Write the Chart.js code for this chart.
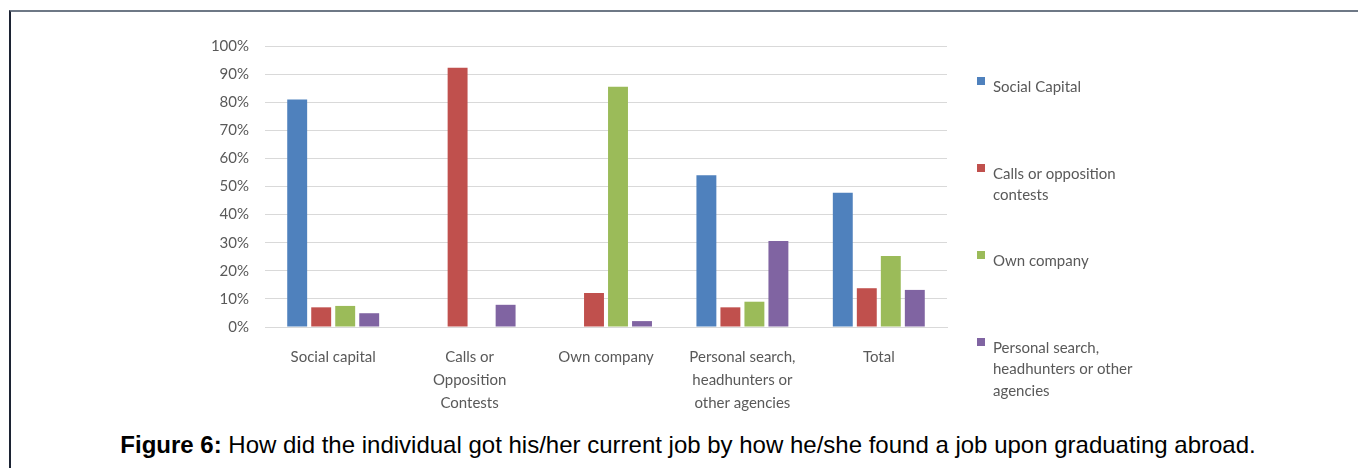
<!DOCTYPE html>
<html>
<head>
<meta charset="utf-8">
<script src="https://cdn.jsdelivr.net/npm/chart.js@4/dist/chart.umd.min.js"></script>
<style>
  html, body { margin: 0; padding: 0; background: #fff; }
  #wrap { position: relative; width: 1358px; height: 468px; overflow: hidden; }
  #frame {
    position: absolute; left: 9px; top: 10px; right: -5px; bottom: -5px;
    border-top: 2px solid #6e7886; border-left: 2px solid #1c2333;
  }
  #chart-box { position: absolute; left: 0; top: 0; width: 1358px; height: 420px; }
  #caption {
    position: absolute; left: 0; width: 1376px; top: 433px;
    text-align: center; font-family: "Liberation Sans", Arial, sans-serif;
    font-size: 24px; line-height: 24px; color: #000; white-space: nowrap;
  }
</style>
</head>
<body>
<div id="wrap">
  <div id="frame"></div>
  <div id="chart-box"><canvas id="c"></canvas></div>
  <div id="caption"><b>Figure 6:</b> How did the individual got his/her current job by how he/she found a job upon graduating abroad.</div>
</div>
<script>
// categories: how the current job was obtained
var categories = [
  ["Social capital"],
  ["Calls or", "Opposition", "Contests"],
  ["Own company"],
  ["Personal search,", "headhunters or", "other agencies"],
  ["Total"]
];

// series: how a job was found upon graduating (percent)
var socialCapital = [81, 0, 0, 54, 47.8];
var callsOpposition = [7, 92.3, 12.1, 7, 13.8];
var ownCompany = [7.5, 0, 85.5, 9, 25.3];
var personalSearch = [4.9, 7.9, 2.1, 30.6, 13.2];

var seriesNames = [
  ["Social Capital"],
  ["Calls or opposition", "contests"],
  ["Own company"],
  ["Personal search,", "headhunters or other", "agencies"]
];
var seriesColors = ["#4F81BD", "#C0504D", "#9BBB59", "#8064A2"];

var yTicks = [0, 10, 20, 30, 40, 50, 60, 70, 80, 90, 100];

var FONT = "Lato";
var GREY = "#595959";

// legend on the right, one block per series, multi-line labels
var sideLegend = {
  id: "sideLegend",
  afterDraw: function (chart) {
    var ctx = chart.ctx;
    var x = 977, y = 87, step = 87, lineH = 21.5;
    ctx.save();
    ctx.font = "15px " + FONT;
    ctx.textBaseline = "middle";
    ctx.textAlign = "left";
    chart.data.datasets.forEach(function (ds, i) {
      var top = y + i * step;
      ctx.fillStyle = ds.backgroundColor;
      ctx.fillRect(x, top - 10, 8, 8);
      ctx.fillStyle = GREY;
      ds.legendLines.forEach(function (line, j) {
        ctx.fillText(line, x + 16, top + j * lineH);
      });
    });
    ctx.restore();
  }
};

var seriesData = [socialCapital, callsOpposition, ownCompany, personalSearch];

new Chart(document.getElementById("c"), {
  type: "bar",
  data: {
    labels: categories,
    datasets: seriesData.map(function (d, i) {
      return {
        label: seriesNames[i].join(" "),
        legendLines: seriesNames[i],
        data: d,
        backgroundColor: seriesColors[i],
        categoryPercentage: 0.704,
        barPercentage: 0.83
      };
    })
  },
  options: {
    responsive: true,
    maintainAspectRatio: false,
    animation: false,
    layout: { padding: { left: 190, right: 411, top: 46, bottom: 0 } },
    plugins: {
      legend: { display: false },
      tooltip: { enabled: false }
    },
    scales: {
      x: {
        grid: { display: false },
        border: { display: true, color: "#d9d9d9", width: 1 },
        ticks: {
          color: GREY,
          font: { family: FONT, size: 15, lineHeight: 1.53 },
          padding: 11,
          maxRotation: 0,
          autoSkip: false
        },
        afterFit: function (scale) { scale.height = 93; }
      },
      y: {
        min: 0,
        max: 100,
        afterBuildTicks: function (scale) {
          scale.ticks = yTicks.map(function (v) { return { value: v }; });
        },
        grid: { color: "#d9d9d9", drawTicks: false },
        border: { display: false },
        ticks: {
          color: GREY,
          font: { family: FONT, size: 15 },
          padding: 16,
          callback: function (v) { return v + "%"; }
        },
        afterFit: function (scale) { scale.width = 75; }
      }
    }
  },
  plugins: [sideLegend]
});
</script>
</body>
</html>
